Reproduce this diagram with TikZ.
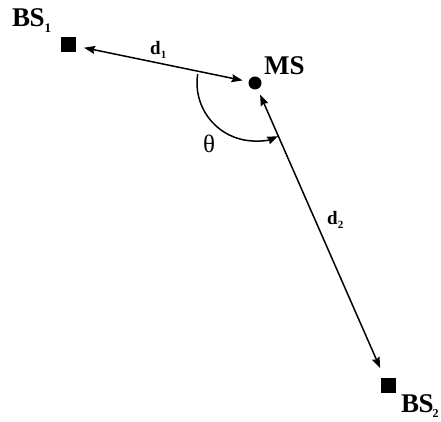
\documentclass[tikz,border=0pt]{standalone}
\usepackage{fontspec}
\setmainfont{Liberation Serif}
\usetikzlibrary{arrows.meta}
\begin{document}
\begin{tikzpicture}[x=1pt,y=1pt,
  sq/.style={fill=black,inner sep=0pt,minimum size=15pt},
  dot/.style={circle,fill=black,inner sep=0pt,minimum size=13pt},
  lbl/.style={font=\fontsize{27}{27}\selectfont\bfseries,inner sep=0pt,anchor=base west},
  dlbl/.style={font=\fontsize{19}{19}\selectfont\bfseries,inner sep=0pt,anchor=base west},
  tip/.style={line width=1.5pt,{Stealth[length=11pt,width=8pt,inset=1.5pt]}-{Stealth[length=11pt,width=8pt,inset=1.5pt]}},
  arcstyle/.style={line width=1.5pt,-{Stealth[length=11pt,width=8pt,inset=1.5pt]}}]
\useasboundingbox (0,0) rectangle (441,422);
\node[sq] (bs1) at (68.5,377.5) {};
\node[dot] (ms) at (255,339) {};
\node[sq] (bs2) at (388,36) {};
\node[lbl] (bs1l) at (12,395) {B\kern-0.5ptS\raisebox{-6pt}{\fontsize{13}{13}\selectfont 1}};
\node[lbl] (msl) at (264,347) {MS};
\node[lbl] (bs2l) at (401,9) {B\kern-0.5ptS\kern-1pt\raisebox{-5pt}{\fontsize{12}{12}\selectfont 2}};
\draw[tip,shorten <=8pt,shorten >=6pt] (bs1) -- (ms);
\draw[tip,shorten <=6pt,shorten >=11pt] (ms) -- (bs2);
\node[dlbl] (d1) at (150,367) {d\raisebox{-4pt}{\fontsize{11}{11}\selectfont 1}};
\node[dlbl] (d2) at (327,197) {d\raisebox{-4pt}{\fontsize{11}{11}\selectfont 2}};
\draw[arcstyle] ([shift={(171:58)}]ms.center) arc[start angle=171,end angle=293.5,radius=58];
\node[font=\fontsize{25}{25}\selectfont,inner sep=0pt] (th) at (209,278.5) {θ};
\end{tikzpicture}
\end{document}
